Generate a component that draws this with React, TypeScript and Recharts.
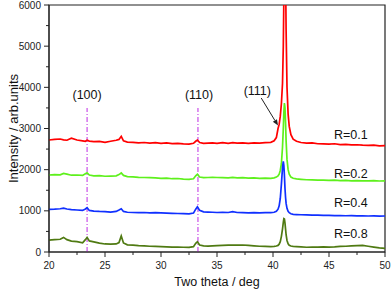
import {
  LineChart,
  Line,
  XAxis,
  YAxis,
  ReferenceLine,
  ReferenceArea,
  ReferenceDot,
  Label,
} from "recharts";

// two theta grid (deg), shared by all four patterns
const twoTheta = [
  20, 20.5, 21, 21.3, 21.6, 22, 22.5, 23,
  23.25, 23.4, 23.6, 24, 24.5, 25, 25.5, 26,
  26.25, 26.45, 26.65, 27, 27.5, 28, 28.5, 29,
  29.5, 30, 30.5, 31, 31.5, 32, 32.5, 32.9,
  33.1, 33.25, 33.45, 33.8, 34.2, 34.6, 35, 35.5,
  36, 36.4, 36.8, 37.3, 37.8, 38.3, 38.8, 39.3,
  39.8, 40.1, 40.3, 40.45, 40.55, 40.65, 40.75, 40.85,
  40.92, 40.97, 41.02, 41.07, 41.12, 41.17, 41.25, 41.35,
  41.45, 41.6, 41.8, 42.1, 42.5, 43, 43.5, 44,
  44.5, 45, 45.5, 46, 46.5, 47, 47.5, 48,
  48.5, 49, 49.5, 50,
];

const r01 = [
  2720, 2735, 2745, 2725, 2715, 2765, 2720, 2700,
  2690, 2715, 2695, 2680, 2685, 2665, 2690, 2715,
  2735, 2810, 2700, 2670, 2665, 2650, 2660, 2645,
  2655, 2640, 2650, 2635, 2640, 2625, 2620, 2640,
  2690, 2720, 2660, 2640, 2645, 2650, 2640, 2655,
  2640, 2655, 2645, 2650, 2640, 2650, 2645, 2655,
  2665, 2700, 2780, 3000, 3100, 3300, 3600, 4100,
  5000, 6200, 7600, 8000, 6800, 5400, 4000, 3350,
  3050, 2850, 2740, 2690, 2660, 2645, 2650, 2630,
  2625, 2620, 2630, 2610, 2615, 2600, 2605, 2595,
  2590, 2595, 2580, 2585,
];

const r02 = [
  1870, 1880, 1875, 1910, 1890, 1865, 1870, 1860,
  1900, 1925, 1870, 1850, 1855, 1840, 1845, 1850,
  1880, 1920, 1860, 1830, 1825, 1815, 1810, 1805,
  1800, 1790, 1795, 1780, 1785, 1770, 1765, 1780,
  1850, 1890, 1820, 1805, 1810, 1815, 1810, 1805,
  1800, 1815, 1800, 1805, 1795, 1800, 1790, 1795,
  1790, 1800, 1820, 1850, 1890, 1980, 2150, 2550,
  3000, 3400, 3620, 3500, 3150, 2700, 2250, 2000,
  1890, 1820, 1790, 1775, 1765, 1755, 1750, 1745,
  1745, 1740, 1745, 1735, 1740, 1730, 1735, 1730,
  1728, 1735, 1725, 1730,
];

const r04 = [
  1035, 1040, 1050, 1065, 1045, 1030, 1020, 1010,
  1045, 1075, 1010, 995, 985, 980, 970, 985,
  1020, 1050, 985, 965, 960, 955, 960, 950,
  955, 950, 945, 940, 935, 930, 925, 945,
  1040, 1100, 1010, 975, 970, 965, 960, 965,
  960, 980, 960, 955, 950, 955, 950, 955,
  955, 965, 990, 1040, 1120, 1300, 1650, 2050,
  2200, 2100, 1850, 1550, 1330, 1180, 1060, 990,
  955, 930, 915, 910, 905, 900, 895, 895,
  890, 890, 885, 885, 880, 882, 878, 880,
  875, 878, 872, 875,
];

const r08 = [
  290, 300, 310, 355, 300, 265, 250, 225,
  300, 355, 270, 245, 215, 195, 190, 195,
  230, 390, 220, 175, 165, 155, 150, 140,
  135, 130, 125, 120, 118, 115, 112, 130,
  210, 250, 170, 150, 145, 150, 155, 160,
  165, 170, 165, 170, 160, 150, 140, 135,
  130, 135, 145, 160, 190, 250, 380, 560,
  720, 810, 800, 700, 560, 420, 280, 200,
  165, 145, 135, 130, 125, 115, 118, 120,
  125, 120, 125, 135, 140, 150, 155, 160,
  140, 120, 100, 90,
];

const seriesKeys = ["r01", "r02", "r04", "r08"];
const seriesNames = ["R=0.1", "R=0.2", "R=0.4", "R=0.8"];
const seriesColors = ["#ff0000", "#5ef01c", "#1030ff", "#4f7a12"];
const nameX = 45.45;
const nameY = [2840, 1895, 1200, 455];

const xTicks = [20, 22.5, 25, 27.5, 30, 32.5, 35, 37.5, 40, 42.5, 45, 47.5, 50];
const yTicks = [0, 500, 1000, 1500, 2000, 2500, 3000, 3500, 4000, 4500, 5000, 5500, 6000];

const planes = ["(100)", "(110)", "(111)"];
const planeX = [23.4, 33.4, 38.6];
const planeY = [3810, 3810, 3930];
const dropX = [23.4, 33.3];
const dropTop = 3500;
const arrowFrom = { x: 38.95, y: 3740 };
const arrowTo = { x: 40.45, y: 3070 };

const rows = twoTheta.map((t, i) => ({
  t,
  r01: r01[i],
  r02: r02[i],
  r04: r04[i],
  r08: r08[i],
}));

const FONT = "'Liberation Sans', Arial, sans-serif";
const AXIS = "#222";

function XTick({ x, y, payload }: any) {
  const major = payload.value % 5 === 0;
  return (
    <g>
      <line x1={x} y1={y} x2={x} y2={y + (major ? 5 : 3)} stroke={AXIS} />
      {major && (
        <text x={x} y={y + 16.5} textAnchor="middle" fontSize={10} fontFamily={FONT} fill="#222">
          {payload.value}
        </text>
      )}
    </g>
  );
}

function YTick({ x, y, payload }: any) {
  const major = payload.value % 1000 === 0;
  return (
    <g>
      <line x1={x} y1={y} x2={x - (major ? 5 : 3)} y2={y} stroke={AXIS} />
      {major && (
        <text x={x - 8} y={y + 3.6} textAnchor="end" fontSize={10} fontFamily={FONT} fill="#222">
          {payload.value}
        </text>
      )}
    </g>
  );
}

function Arrow(p: any) {
  const { x1, y1, x2, y2 } = p;
  const a = Math.atan2(y2 - y1, x2 - x1);
  const len = 6;
  const w = 2.4;
  const bx = x2 - len * Math.cos(a);
  const by = y2 - len * Math.sin(a);
  const pts = `${x2},${y2} ${bx + w * Math.sin(a)},${by - w * Math.cos(a)} ${bx - w * Math.sin(a)},${by + w * Math.cos(a)}`;
  return (
    <g>
      <line x1={x1} y1={y1} x2={bx} y2={by} stroke={AXIS} strokeWidth={1} />
      <polygon points={pts} fill={AXIS} />
    </g>
  );
}

const textShape = (txt: string, anchor: "start" | "middle") => (p: any) => (
  <text
    x={p.cx}
    y={p.cy}
    dy={4.3}
    textAnchor={anchor}
    fontSize={12.5}
    fontFamily={FONT}
    fill="#111"
  >
    {txt}
  </text>
);

export default function App() {
  return (
    <div style={{ position: "absolute", left: 0, top: 0 }}>
      <LineChart
        width={392}
        height={291}
        data={rows}
        margin={{ top: 5, right: 7, bottom: 0, left: 0 }}
      >
        <XAxis
          dataKey="t"
          type="number"
          domain={[20, 50]}
          ticks={xTicks}
          interval={0}
          height={39}
          tickSize={0}
          tickMargin={0}
          tickLine={false}
          stroke={AXIS}
          tick={<XTick />}
        >
          <Label
            content={({ viewBox }: any) => (
              <text
                x={viewBox.x + viewBox.width / 2}
                y={viewBox.y + 34}
                textAnchor="middle"
                fontSize={12.5}
                fontFamily={FONT}
                fill="#111"
              >
                Two theta / deg
              </text>
            )}
          />
        </XAxis>
        <YAxis
          type="number"
          domain={[0, 6000]}
          allowDataOverflow
          ticks={yTicks}
          interval={0}
          width={49}
          tickSize={0}
          tickMargin={0}
          tickLine={false}
          stroke={AXIS}
          tick={<YTick />}
        >
          <Label
            content={({ viewBox }: any) => {
              const cx = 13;
              const cy = viewBox.y + viewBox.height / 2;
              return (
                <text
                  x={cx}
                  y={cy}
                  dy={4.5}
                  transform={`rotate(-90 ${cx} ${cy})`}
                  textAnchor="middle"
                  fontSize={13}
                  fontFamily={FONT}
                  fill="#111"
                >
                  Intensity / arb.units
                </text>
              );
            }}
          />
        </YAxis>
        <ReferenceArea x1={20} x2={50} y1={0} y2={6000} fill="none" stroke={AXIS} strokeWidth={1.2} />
        {dropX.map((dx) => (
          <ReferenceLine
            key={dx}
            segment={[
              { x: dx, y: 0 },
              { x: dx, y: dropTop },
            ]}
            stroke="#c43fe6"
            strokeWidth={1.1}
            strokeDasharray="5 2 1 2"
          />
        ))}
        {seriesKeys.map((k, i) => (
          <Line
            key={k}
            dataKey={k}
            stroke={seriesColors[i]}
            strokeWidth={1.7}
            dot={false}
            isAnimationActive={false}
          />
        ))}
        <ReferenceLine segment={[arrowFrom, arrowTo]} shape={Arrow} />
        {planes.map((pl, i) => (
          <ReferenceDot
            key={pl}
            x={planeX[i]}
            y={planeY[i]}
            r={1}
            shape={textShape(pl, "middle")}
          />
        ))}
        {seriesNames.map((nm, i) => (
          <ReferenceDot
            key={nm}
            x={nameX}
            y={nameY[i]}
            r={1}
            shape={textShape(nm, "start")}
          />
        ))}
      </LineChart>
    </div>
  );
}
